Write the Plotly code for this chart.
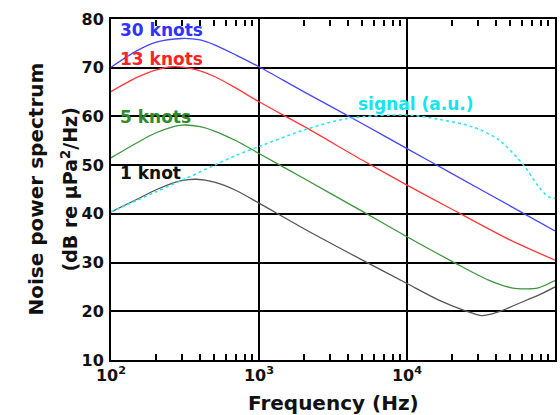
import plotly.graph_objects as go

# ---- data ----
f_30 = [100, 150, 200, 300, 400, 500, 700, 1000, 2000, 5000, 10000, 20000, 50000, 100000]
v_30 = [70.1, 73.5, 75.2, 76.0, 75.7, 74.7, 72.6, 70.2, 65.1, 58.5, 53.4, 48.3, 41.6, 36.5]

f_13 = [100, 150, 200, 260, 350, 500, 700, 1000, 2000, 5000, 10000, 20000, 50000, 100000]
v_13 = [65.1, 68.0, 69.5, 70.2, 69.8, 68.2, 65.8, 63.0, 58.0, 51.0, 45.9, 41.0, 34.6, 30.5]

f_5 = [100, 150, 200, 300, 400, 500, 700, 1000, 2000, 5000, 10000, 20000, 35600, 51000, 64000, 77000, 100000]
v_5 = [51.5, 54.6, 56.6, 58.2, 57.9, 57.0, 55.0, 52.4, 47.3, 40.5, 35.3, 30.3, 26.4, 24.8, 24.6, 24.8, 26.3]

f_1 = [100, 150, 200, 300, 380, 500, 700, 1000, 2000, 5000, 10000, 16400, 24800, 32100, 41700, 56800, 77400, 100000]
v_1 = [40.4, 43.0, 44.9, 46.8, 47.1, 46.5, 44.8, 42.2, 37.0, 30.5, 25.7, 22.3, 20.1, 19.1, 19.9, 21.6, 23.3, 25.0]

f_sig = [100, 150, 200, 323, 500, 700, 1000, 2000, 4000, 10000, 16400, 27500, 41700, 61400, 77400, 90300, 100000]
v_sig = [40.4, 42.8, 44.5, 47.3, 50.0, 52.0, 53.8, 57.2, 59.6, 60.3, 59.4, 57.9, 55.2, 50.0, 45.6, 43.5, 43.2]

x_decades = [100, 1000, 10000, 100000]
x_decade_text = ["10<sup>2</sup>", "10<sup>3</sup>", "10<sup>4</sup>", "10<sup>5</sup>"]
y_tickvals = [10, 20, 30, 40, 50, 60, 70, 80]

labels = ["30 knots", "13 knots", "5 knots", "1 knot"]
label_y = [77.7, 71.8, 59.9, 48.4]
sig_label = "signal (a.u.)"

FONT = "DejaVu Sans"
C30, C13, C5, C1, CS = "#4646ff", "#ff3a3a", "#3c963c", "#555555", "#2ee6ee"
LBL_COL = ["#3333ff", "#ff2222", "#2e8b2e", "#111111"]

# all x ticks: decades (labelled) plus 2..9 in every decade (unlabelled)
x_tickvals, x_ticktext = [], []
for d, txt in zip(x_decades, x_decade_text):
    x_tickvals.append(d)
    x_ticktext.append(txt)
    if d < x_decades[-1]:
        for m in range(2, 10):
            x_tickvals.append(m * d)
            x_ticktext.append("")

fig = go.Figure()
for f, v, c in [(f_30, v_30, C30), (f_13, v_13, C13), (f_5, v_5, C5), (f_1, v_1, C1)]:
    fig.add_trace(go.Scatter(x=f, y=v, mode="lines",
                             line=dict(color=c, width=1.3, shape="spline", smoothing=0.8),
                             showlegend=False))
fig.add_trace(go.Scatter(x=f_sig, y=v_sig, mode="lines",
                         line=dict(color=CS, width=1.6, dash="dot", shape="spline", smoothing=0.8),
                         showlegend=False))
# invisible helper trace on the top axis so it gets drawn
fig.add_trace(go.Scatter(x=[x_decades[0], x_decades[-1]], y=[y_tickvals[0], y_tickvals[-1]],
                         xaxis="x2", yaxis="y", mode="lines", line=dict(width=0),
                         opacity=0, showlegend=False, hoverinfo="skip"))

for t, yv, c in zip(labels, label_y, LBL_COL):
    fig.add_annotation(x=2.047, y=yv, xref="x", yref="y", text="<b>%s</b>" % t, showarrow=False,
                       xanchor="left", yanchor="middle", font=dict(family=FONT, size=17, color=c))
fig.add_annotation(x=4.058, y=62.5, xref="x", yref="y", text="<b>%s</b>" % sig_label, showarrow=False,
                   xanchor="center", yanchor="middle", font=dict(family=FONT, size=17, color="#11e5ee"))

# axis titles
fig.add_annotation(x=0.5, y=0, xref="paper", yref="paper", yshift=-43, text="<b>Frequency (Hz)</b>",
                   showarrow=False, xanchor="center", yanchor="middle",
                   font=dict(family=FONT, size=20, color="#111111"))
fig.add_annotation(x=0, y=0.5, xref="paper", yref="paper", xshift=-76, text="<b>Noise power spectrum</b>",
                   showarrow=False, xanchor="center", yanchor="middle", textangle=-90,
                   font=dict(family=FONT, size=20, color="#111111"))
fig.add_annotation(x=0, y=0.5, xref="paper", yref="paper", xshift=-42,
                   text="<b>(dB re μPa<sup>2</sup>/Hz)</b>",
                   showarrow=False, xanchor="center", yanchor="middle", textangle=-90,
                   font=dict(family=FONT, size=19, color="#111111"))

tickfont = dict(family=FONT, size=16, color="#111111", weight="bold")
fig.update_layout(
    width=560, height=415,
    margin=dict(l=111, r=3, t=19, b=55),
    paper_bgcolor="white", plot_bgcolor="white",
    font=dict(family=FONT, size=16, color="#111111"),
    xaxis=dict(type="log", range=[2, 5], tickvals=x_tickvals, ticktext=x_ticktext,
               showgrid=False,
               showline=True, linecolor="black", linewidth=2, mirror=True,
               ticks="inside", ticklen=6, tickcolor="black", tickwidth=1.5,
               tickfont=tickfont,
               minor=dict(tickvals=x_decades, ticks="", showgrid=True,
                          gridcolor="black", gridwidth=1.6),
               zeroline=False),
    xaxis2=dict(type="log", range=[2, 5], overlaying="x", side="top", anchor="free", position=1,
                tickvals=x_tickvals, showticklabels=False, showgrid=False,
                ticks="inside", ticklen=6, tickcolor="black", tickwidth=1.5,
                showline=False, zeroline=False),
    yaxis=dict(range=[10, 80], tickvals=y_tickvals,
               showgrid=True, gridcolor="black", gridwidth=1.6,
               showline=True, linecolor="black", linewidth=2, mirror=True,
               ticks="", ticklabelstandoff=2, tickfont=tickfont,
               zeroline=False),
)

fig.write_html("out.html")
